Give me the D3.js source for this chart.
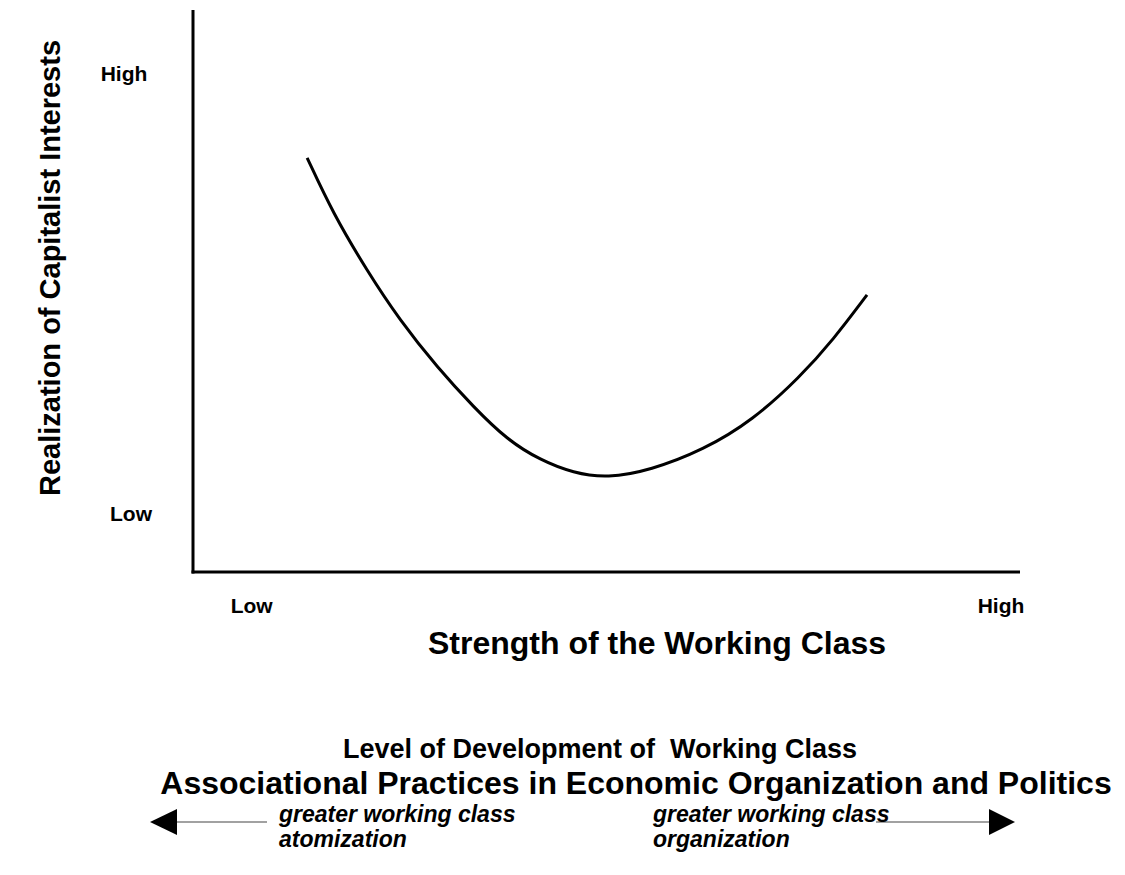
<!DOCTYPE html>
<html lang="en">
<head>
<meta charset="utf-8">
<title>Working class strength</title>
<script src="https://cdn.jsdelivr.net/npm/d3@7/dist/d3.min.js"></script>
<style>
  body { margin: 0; background: #fff; }
  text { font-family: "Liberation Sans", Arial, sans-serif; font-weight: bold; fill: #000; }
</style>
</head>
<body>
<script>
// data (0-100 on both axes)
var strength = [13.8, 16.9, 21.0, 25.0, 29.6, 33.9, 38.0, 42.0, 46.0, 50.1, 55.3, 61.7, 67.7, 73.4, 77.4, 81.5];
var realization = [73.7, 63.9, 53.7, 44.8, 36.3, 29.4, 23.5, 19.9, 17.6, 16.7, 18.1, 21.7, 27.0, 34.7, 41.3, 49.3];
var xTickLabels = ["Low", "High"];
var xTickValues = [7.1, 97.7];
var yTickLabels = ["High", "Low"];
var yTickValues = [88.8, 10.5];

var width = 1125, height = 875;

var svg = d3.select("body").append("svg")
  .attr("width", width)
  .attr("height", height);

var x = d3.scaleLinear().domain([0, 100]).range([193, 1020]);
var y = d3.scaleLinear().domain([0, 100]).range([572, 10]);

// axes lines
svg.append("line")
  .attr("x1", x(0)).attr("x2", x(0))
  .attr("y1", y(100)).attr("y2", y(0) + 1.5)
  .attr("stroke", "#000").attr("stroke-width", 3);
svg.append("line")
  .attr("x1", x(0) - 1.5).attr("x2", x(100))
  .attr("y1", y(0)).attr("y2", y(0))
  .attr("stroke", "#000").attr("stroke-width", 3);

// tick labels
svg.selectAll(".xtick")
  .data(xTickLabels)
  .enter().append("text")
  .attr("class", "xtick")
  .attr("x", function (d, i) { return x(xTickValues[i]); })
  .attr("y", 613)
  .attr("text-anchor", "middle")
  .attr("font-size", 21)
  .text(function (d) { return d; });

svg.selectAll(".ytick")
  .data(yTickLabels)
  .enter().append("text")
  .attr("class", "ytick")
  .attr("x", function (d, i) { return i == 0 ? 124 : 131; })
  .attr("y", function (d, i) { return y(yTickValues[i]) + 8; })
  .attr("text-anchor", "middle")
  .attr("font-size", 21)
  .text(function (d) { return d; });

// curve
var line = d3.line()
  .x(function (d, i) { return x(strength[i]); })
  .y(function (d) { return y(d); })
  .curve(d3.curveBasis);

svg.append("path")
  .attr("d", line(realization))
  .attr("fill", "none")
  .attr("stroke", "#000")
  .attr("stroke-width", 3);

// axis titles
svg.append("text")
  .attr("transform", "translate(60,268) rotate(-90)")
  .attr("text-anchor", "middle")
  .attr("font-size", 29)
  .text("Realization of Capitalist Interests");

svg.append("text")
  .attr("x", 657).attr("y", 654)
  .attr("text-anchor", "middle")
  .attr("font-size", 32)
  .text("Strength of the Working Class");

svg.append("text")
  .attr("x", 600).attr("y", 758)
  .attr("text-anchor", "middle")
  .attr("font-size", 27)
  .style("white-space", "pre")
  .text("Level of Development of  Working Class");

svg.append("text")
  .attr("x", 636).attr("y", 794)
  .attr("text-anchor", "middle")
  .attr("font-size", 32)
  .text("Associational Practices in Economic Organization and Politics");

// arrows
var ay = 822;
svg.append("line")
  .attr("x1", 176).attr("x2", 267).attr("y1", ay).attr("y2", ay)
  .attr("stroke", "#444").attr("stroke-width", 1.2);
svg.append("path")
  .attr("d", "M150," + ay + "L177," + (ay - 13) + "L177," + (ay + 13) + "Z")
  .attr("fill", "#000");

svg.append("line")
  .attr("x1", 876).attr("x2", 990).attr("y1", ay).attr("y2", ay)
  .attr("stroke", "#444").attr("stroke-width", 1.2);
svg.append("path")
  .attr("d", "M1015," + ay + "L989," + (ay - 13) + "L989," + (ay + 13) + "Z")
  .attr("fill", "#000");

var notes = svg.selectAll(".note")
  .data([["greater working class", "atomization", 279], ["greater working class", "organization", 653]])
  .enter().append("text")
  .attr("class", "note")
  .attr("font-size", 23)
  .attr("font-style", "italic");
notes.append("tspan").attr("x", function (d) { return d[2]; }).attr("y", 822).text(function (d) { return d[0]; });
notes.append("tspan").attr("x", function (d) { return d[2]; }).attr("y", 847).text(function (d) { return d[1]; });
</script>
</body>
</html>
